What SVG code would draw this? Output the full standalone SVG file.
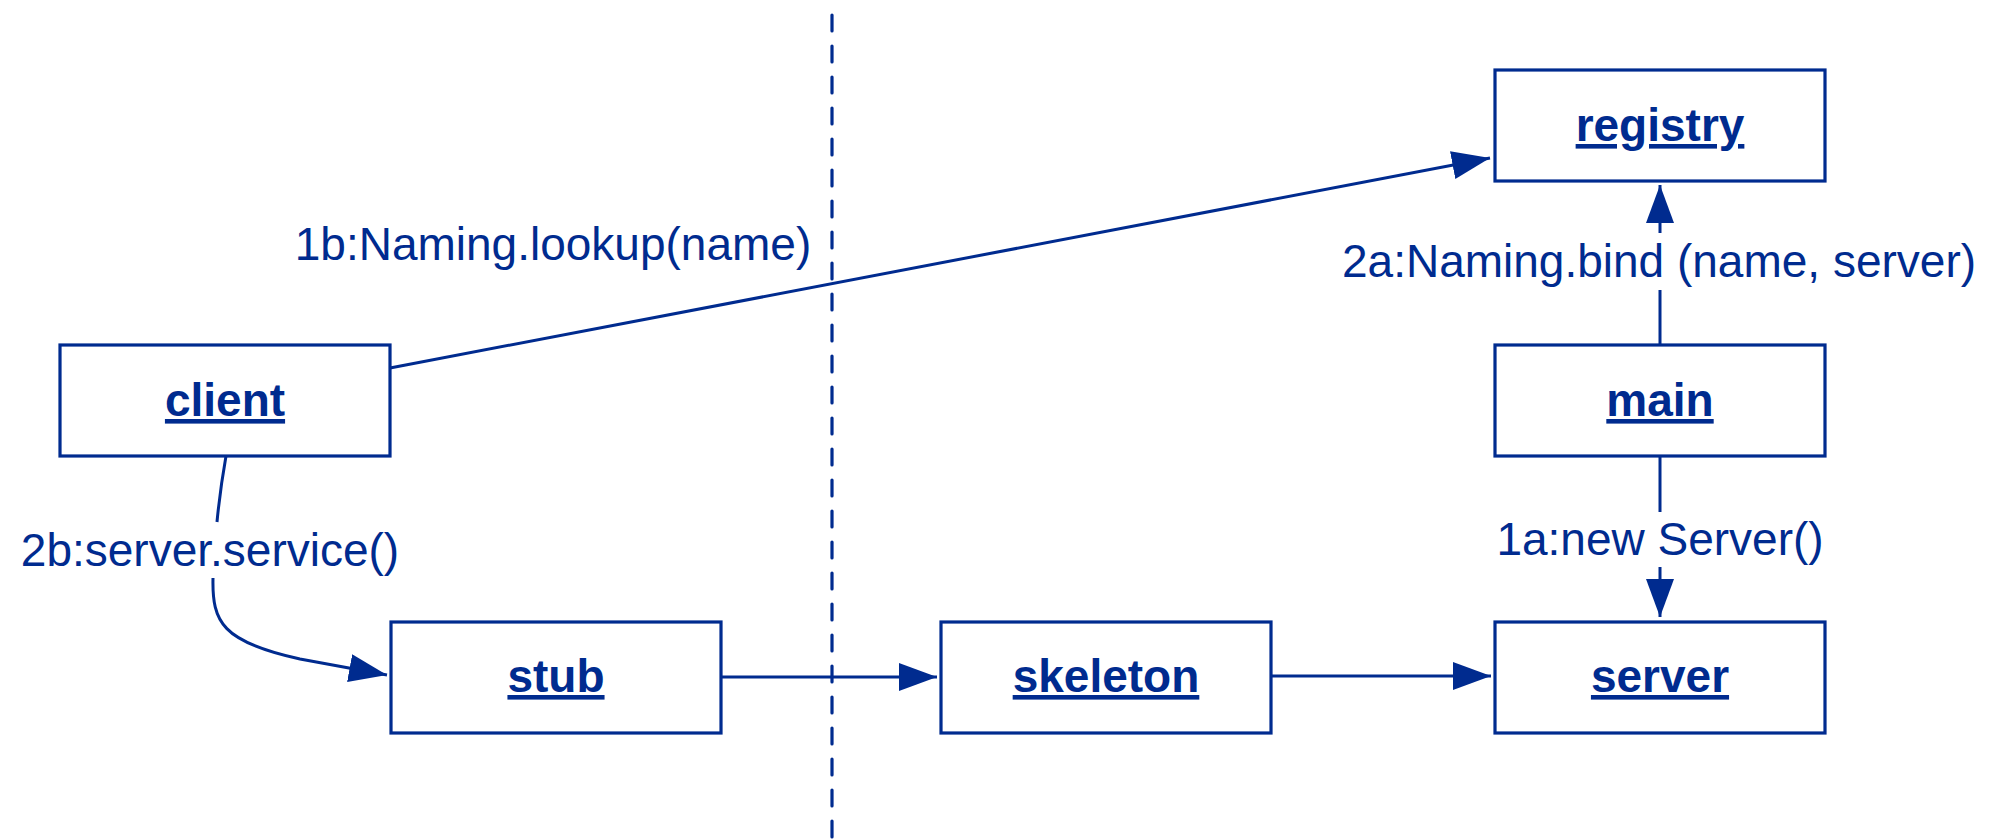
<svg xmlns="http://www.w3.org/2000/svg" width="1993" height="839" viewBox="0 0 1993 839">
<style>
.box{fill:#ffffff;stroke:#002b8f;stroke-width:3.2}
.name{font-family:"Liberation Sans",Arial,sans-serif;font-size:46px;font-weight:bold;fill:#002b8f;text-anchor:middle;text-decoration:underline}
.lbl{font-family:"Liberation Sans",Arial,sans-serif;font-size:46px;fill:#002b8f;text-anchor:middle}
.ln{fill:none;stroke:#002b8f;stroke-width:3}
.arr{marker-end:url(#ah)}
.dash{fill:none;stroke:#002b8f;stroke-width:3.2;stroke-dasharray:16 15;stroke-linecap:round}
</style>
<defs>
<marker id="ah" markerUnits="userSpaceOnUse" markerWidth="38" markerHeight="28" refX="38" refY="14" orient="auto" viewBox="0 0 38 28">
<path d="M0,0 L38,14 L0,28 z" fill="#002b8f"/>
</marker>
</defs>
<rect width="1993" height="839" fill="#ffffff"/>
<path class="dash" d="M832 15 L832 839"/>
<g id="connectors">
<path class="ln arr" d="M390 368 L1490 158"/>
<path class="ln" d="M1660 345 L1660 290"/>
<path class="ln arr" d="M1660 233 L1660 185"/>
<path class="ln" d="M1660 456 L1660 512"/>
<path class="ln arr" d="M1660 567 L1660 617"/>
<path class="ln" d="M226 456 Q220 490 217 522"/>
<path class="ln arr" d="M213 578 C212 622 222 642 300 659 L387 675"/>
<path class="ln arr" d="M721 677 L937 677"/>
<path class="ln arr" d="M1271 676 L1491 676"/>
<text class="lbl" x="553" y="260">1b:Naming.lookup(name)</text>
<text class="lbl" x="1659" y="277">2a:Naming.bind (name, server)</text>
<text class="lbl" x="1660" y="555">1a:new Server()</text>
<text class="lbl" x="210" y="566">2b:server.service()</text>
</g>
<g id="client"><rect class="box" x="60" y="345" width="330" height="111"/><text class="name" x="225" y="416">client</text></g>
<g id="registry"><rect class="box" x="1495" y="70" width="330" height="111"/><text class="name" x="1660" y="141">registry</text></g>
<g id="main"><rect class="box" x="1495" y="345" width="330" height="111"/><text class="name" x="1660" y="416">main</text></g>
<g id="stub"><rect class="box" x="391" y="622" width="330" height="111"/><text class="name" x="556" y="692">stub</text></g>
<g id="skeleton"><rect class="box" x="941" y="622" width="330" height="111"/><text class="name" x="1106" y="692">skeleton</text></g>
<g id="server"><rect class="box" x="1495" y="622" width="330" height="111"/><text class="name" x="1660" y="692">server</text></g>
</svg>
